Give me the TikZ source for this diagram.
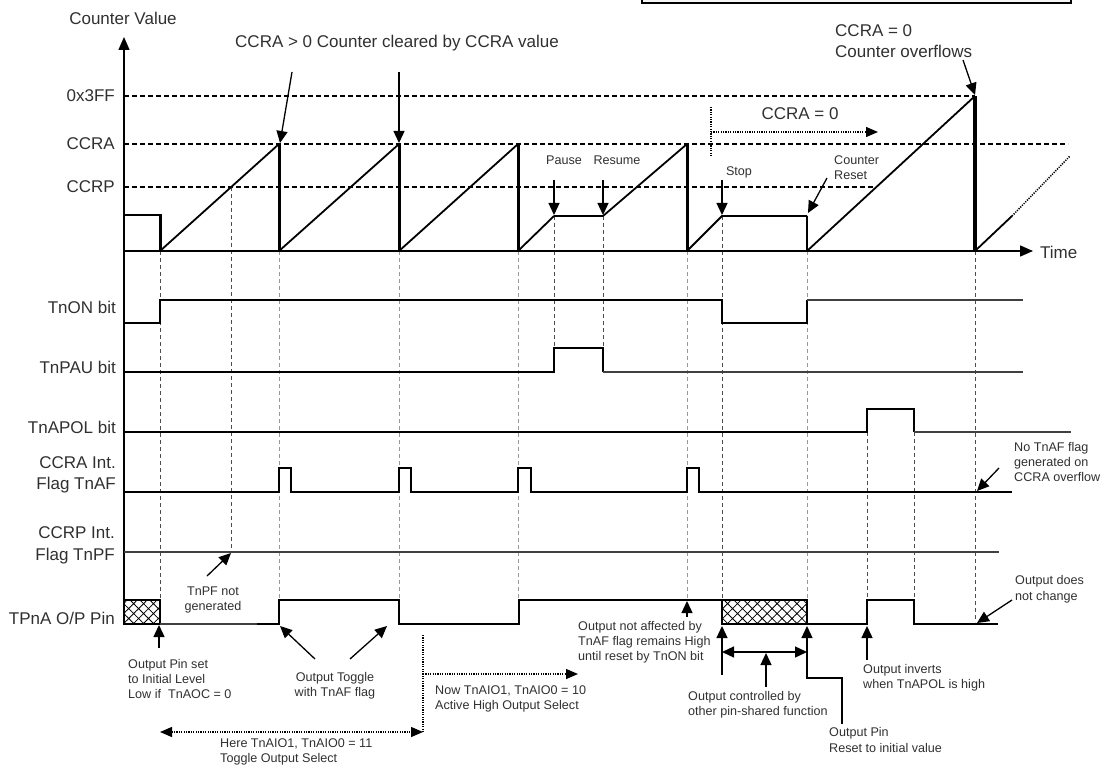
\documentclass[tikz,border=0pt]{standalone}
\usepackage{fontspec}
\setmainfont{Liberation Sans}
\usetikzlibrary{arrows.meta,patterns.meta}
\definecolor{txt}{HTML}{303030}
\begin{document}
\begin{tikzpicture}[x=1pt,y=-1pt,
  big/.style={font=\fontsize{17}{21}\selectfont, text=txt, inner sep=0pt},
  sm/.style={font=\fontsize{12.6}{15}\selectfont, text=txt, inner sep=0pt},
  tip/.style={-{Triangle[length=12pt,width=11pt]}},
  arr/.style={line width=1.3pt, tip},
  darr/.style={line width=1.3pt, {Triangle[length=12pt,width=11pt]}-{Triangle[length=12pt,width=11pt]}},
  dotline/.style={line width=1.3pt, dash pattern=on 1.2pt off 1.2pt},
  dotarr/.style={dotline, -{Triangle[length=12pt,width=10pt]}},
  axisline/.style={line width=1.5pt},
  lvl/.style={line width=1.1pt, dash pattern=on 5pt off 3pt},
  vdark/.style={line width=1pt, black!70, dash pattern=on 4pt off 3pt},
  vlight/.style={line width=1pt, black!40, dash pattern=on 4pt off 3pt},
  ramp/.style={line width=1.8pt},
  drop/.style={line width=3pt},
  plat/.style={line width=2.5pt},
  sig/.style={line width=2pt, line join=miter},
  sigthin/.style={line width=1.3pt, black!75},
  hatchbox/.style={line width=1.8pt, pattern={Hatch[angle=45,distance=7pt,line width=0.8pt]}}
]
\useasboundingbox (0,0) rectangle (1107,767);

% top box (partly outside)
\draw[line width=1.5pt, fill=black!4] (642,-10) rectangle (1071,3);

% dashed level lines
\draw[lvl] (124,96) -- (975,96);
\draw[lvl] (124,144) -- (1068,144);
\draw[lvl] (124,187) -- (876,187);

% vertical event lines
\draw[vdark] (160,251) -- (160,624);
\draw[vdark] (231,187) -- (231,552);
\draw[vdark] (554,216) -- (554,348);
\draw[vdark] (603,216) -- (603,348);
\draw[vdark] (722,216) -- (722,600);
\draw[vdark] (867,432) -- (867,600);
\draw[vdark] (914,432) -- (914,600);
\draw[vdark] (975,251) -- (975,622);
\draw[vlight] (279,251) -- (279,600);
\draw[vlight] (399,251) -- (399,600);
\draw[vlight] (518,251) -- (518,600);
\draw[vlight] (687,251) -- (687,600);
\draw[vlight] (807,251) -- (807,600);

% axes
\draw[axisline, -{Triangle[length=13pt,width=11pt]}] (124,624) -- (124,37);
\draw[axisline, -{Triangle[length=13pt,width=11pt]}] (124,251) -- (1033,251);

% counter waveform
\draw[plat] (124,215) -- (160,215);
\draw[drop] (160,214) -- (160,251);
\draw[ramp] (160,251) -- (279,144);
\draw[drop] (279,144) -- (279,251);
\draw[ramp] (279,251) -- (399,144);
\draw[drop] (399,144) -- (399,251);
\draw[ramp] (399,251) -- (518,144);
\draw[drop] (518,144) -- (518,251);
\draw[ramp] (518,251) -- (554,216);
\draw[plat] (554,216) -- (603,216);
\draw[ramp] (603,216) -- (687,144);
\draw[drop] (687,144) -- (687,251);
\draw[ramp] (687,251) -- (722,216) -- (807,216);
\draw[line width=2pt] (807,216) -- (807,251);
\draw[ramp] (807,251) -- (975,96);
\draw[line width=4.5pt] (975,96) -- (975,251);
\draw[ramp] (975,251) -- (1012,216);
\draw[line width=1.5pt, dash pattern=on 1.2pt off 1.2pt] (1012,216) -- (1070,156);

% signals
\draw[sig] (124,323) -- (160,323) -- (160,300) -- (722,300) -- (722,323) -- (807,323) -- (807,300);
\draw[sigthin] (807,300) -- (1023,300);
\draw[sig] (124,372) -- (554,372) -- (554,348) -- (603,348) -- (603,372);
\draw[sigthin] (603,372) -- (1023,372);
\draw[sig] (124,432) -- (867,432) -- (867,409) -- (914,409) -- (914,432);
\draw[sigthin] (914,432) -- (1071,432);
\draw[sig] (124,492) -- (279,492) -- (279,468) -- (291,468) -- (291,492)
  -- (399,492) -- (399,468) -- (411,468) -- (411,492)
  -- (518,492) -- (518,468) -- (531,468) -- (531,492)
  -- (687,492) -- (687,468) -- (699,468) -- (699,492) -- (1012,492);
\draw[sigthin] (124,552) -- (999,552);
\draw[hatchbox] (124,600) rectangle (160,624);
\draw[sigthin] (160,624) -- (257,624);
\draw[sig] (257,624) -- (279,624) -- (279,600) -- (399,600) -- (399,624) -- (519,624) -- (519,600) -- (722,600);
\draw[hatchbox] (722,600) rectangle (807,624);
\draw[sig] (807,624) -- (867,624) -- (867,600) -- (914,600) -- (914,624) -- (998,624);

% labels, left
\node[big] (cv) at (123,18) {Counter Value};
\node[big, anchor=east] (l3ff) at (115,96) {0x3FF};
\node[big, anchor=east] (lccra) at (115,144) {CCRA};
\node[big, anchor=east] (lccrp) at (115,187) {CCRP};
\node[big, anchor=east] (lon) at (116,307) {TnON bit};
\node[big, anchor=east] (lpau) at (116,367) {TnPAU bit};
\node[big, anchor=east] (lpol) at (116,427) {TnAPOL bit};
\node[big, anchor=north east, align=right] (laf) at (116,456) {CCRA Int.\\Flag TnAF};
\node[big, anchor=north east, align=right, font=\fontsize{17}{22}\selectfont] (lpf) at (115,526) {CCRP Int.\\Flag TnPF};
\node[big, anchor=east] (lpin) at (115,618) {TPnA O/P Pin};
\node[big, anchor=west] (ltime) at (1040,252) {Time};

% top annotations
\node[big, anchor=west] (tclr) at (235,43) {CCRA > 0 Counter cleared by CCRA value};
\draw[arr] (292,72) -- (280,143);
\draw[arr] (399,72) -- (399,143);
\node[sm] (tpause) at (564,160) {Pause};
\node[sm] (tres) at (617,160) {Resume};
\node[sm] (tstop) at (739,172) {Stop};
\draw[arr] (554,180) -- (554,215);
\draw[arr] (603,180) -- (603,215);
\draw[arr] (722,180) -- (722,215);
\node[sm, anchor=north west, align=left, font=\fontsize{12.6}{14.5}\selectfont] (treset) at (834,156) {Counter\\Reset};
\draw[arr] (827,178) -- (808,213);
\node[big, anchor=north west, align=left] (tovf) at (835,24.5) {CCRA = 0\\Counter overflows};
\draw[arr] (963,60) -- (975,95);
\node[big] (tz) at (800,114) {CCRA = 0};
\draw[dotline] (711,107) -- (711,157);
\draw[dotarr] (711,132) -- (878,132);

% right annotation
\node[sm, anchor=north west, align=left] (tnoaf) at (1014,442) {No TnAF flag\\generated on\\CCRA overflow};
\draw[arr] (999,468) -- (977,491);

% bottom annotations
\draw[arr] (207,576) -- (231,553);
\node[sm, anchor=north, align=center] (tnpf) at (213,587) {TnPF not\\generated};
\draw[arr] (159,648) -- (159,625);
\node[sm, anchor=north west, align=left] (tinit) at (128,659) {Output Pin set\\to Initial Level\\Low if\ \ TnAOC = 0};
\draw[arr] (315,659) -- (280,626);
\draw[arr] (350,659) -- (387,626);
\node[sm, anchor=north, align=center] (ttog) at (335,672) {Output Toggle\\with TnAF flag};
\draw[dotline, {Triangle[length=12pt,width=10pt]}-{Triangle[length=12pt,width=10pt]}] (160,732) -- (423,732);
\draw[dotline] (423,635) -- (423,732);
\draw[dotarr] (423,674) -- (578,674);
\node[sm, anchor=north west, align=left] (there) at (220,738) {Here TnAIO1, TnAIO0 = 11\\Toggle Output Select};
\node[sm, anchor=north west, align=left] (tnow) at (435,685) {Now TnAIO1, TnAIO0 = 10\\Active High Output Select};
\draw[arr] (687,617) -- (687,601);
\node[sm, anchor=north west, align=left] (tnaff) at (578,621) {Output not affected by\\TnAF flag remains High\\until reset by TnON bit};
\draw[arr] (722,675) -- (722,626);
\draw[darr] (722,652) -- (807,652);
\draw[arr] (766,687) -- (766,653);
\node[sm, anchor=north west, align=left] (tctl) at (688,691) {Output controlled by\\other pin-shared function};
\draw[arr] (842,724) -- (842,678) -- (807,678) -- (807,626);
\node[sm, anchor=north west, align=left, font=\fontsize{12.6}{16}\selectfont] (trst) at (829,727) {Output Pin\\Reset to initial value};
\draw[arr] (867,660) -- (867,626);
\node[sm, anchor=north west, align=left] (tinv) at (863,664) {Output inverts\\when TnAPOL is high};
\draw[arr] (1012,600) -- (977,623);
\node[sm, anchor=north west, align=left, font=\fontsize{12.6}{16}\selectfont] (tnochg) at (1015,575) {Output does\\not change};
\end{tikzpicture}
\end{document}
